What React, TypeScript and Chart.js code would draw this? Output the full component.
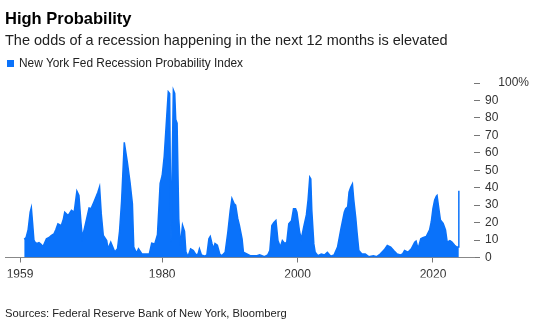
import React, { useEffect, useRef } from "react";
import { Chart, registerables } from "chart.js";

Chart.register(...registerables);

const TITLE = "High Probability";
const SUBTITLE = "The odds of a recession happening in the next 12 months is elevated";
const SERIES_NAME = "New York Fed Recession Probability Index";
const SOURCE = "Sources: Federal Reserve Bank of New York, Bloomberg";

const X_TICKS = [1959, 1980, 2000, 2020];
const Y_TICKS = [0, 10, 20, 30, 40, 50, 60, 70, 80, 90, 100];
const Y_LABELS = ["0", "10", "20", "30", "40", "50", "60", "70", "80", "90", "    100%"];

const years = [
  1959.62, 1959.9, 1960.2, 1960.5, 1960.67, 1960.85, 1961.05, 1961.2, 1961.5, 1961.8,
  1962.1, 1962.4, 1962.9, 1963.3, 1963.6, 1964.0, 1964.3, 1964.6, 1965.1, 1965.4,
  1965.6, 1966.1, 1966.6, 1967.0, 1967.4, 1967.7, 1968.0, 1968.2, 1968.55, 1969.2,
  1969.5, 1969.9, 1970.5, 1970.75, 1971.0, 1971.3, 1971.8, 1972.0, 1972.4, 1972.7,
  1973.0, 1973.4, 1973.7, 1974.0, 1974.4, 1974.85, 1975.25, 1975.6, 1975.8, 1976.2,
  1976.5, 1977.0, 1977.7, 1978.1, 1978.45, 1978.9, 1979.3, 1979.7, 1980.0, 1980.3,
  1980.9, 1981.1, 1981.3, 1981.65, 1981.85, 1982.0, 1982.2, 1982.45, 1982.7, 1983.0,
  1983.3, 1983.5, 1983.8, 1984.2, 1984.6, 1985.0, 1985.3, 1985.5, 1985.8, 1986.3,
  1986.6, 1986.9, 1987.1, 1987.35, 1987.6, 1987.8, 1988.15, 1988.5, 1988.8, 1989.3,
  1989.7, 1990.05, 1990.3, 1990.6, 1990.85, 1991.15, 1991.4, 1991.8, 1992.0, 1992.5,
  1993.0, 1993.5, 1994.0, 1994.4, 1995.1, 1995.6, 1995.9, 1996.2, 1996.5, 1996.8,
  1997.1, 1997.45, 1997.75, 1998.1, 1998.4, 1998.7, 1999.1, 1999.4, 1999.7, 1999.9,
  2000.3, 2000.55, 2000.9, 2001.3, 2001.55, 2001.8, 2001.95, 2002.1, 2002.4, 2002.6,
  2003.0, 2003.5, 2004.0, 2004.4, 2004.9, 2005.4, 2005.9, 2006.4, 2006.9, 2007.1,
  2007.4, 2007.6, 2007.85, 2008.1, 2008.3, 2008.6, 2008.8, 2009.05, 2009.5, 2010.0,
  2010.5, 2011.2, 2011.7, 2012.2, 2012.8, 2013.25, 2013.75, 2014.2, 2014.7, 2015.2,
  2015.5, 2015.8, 2016.3, 2016.8, 2017.3, 2017.5, 2017.8, 2018.2, 2018.5, 2019.0,
  2019.5, 2019.75, 2020.0, 2020.25, 2020.5, 2020.6, 2020.9, 2021.1, 2021.5, 2021.85,
  2022.1, 2022.5, 2022.8, 2023.2, 2023.5, 2023.75, 2023.82,
];

const probability = [
  10.5, 11.5, 16, 26, 28.5, 20, 10, 8.8, 8, 8.5,
  7.5, 6.3, 10.7, 11.5, 12.6, 13.5, 16, 19.3, 18.3, 22,
  25.9, 24, 27, 26, 38, 35.6, 20, 11.6, 17.3, 28.4,
  28, 31.7, 37.4, 40.5, 25, 12.6, 9.7, 5, 8.8, 6,
  3.1, 5, 15, 32, 66, 54.6, 43, 30.8, 6, 2.5,
  5, 2, 2, 2, 8.2, 7.7, 13, 42.5, 47, 58,
  95, 94, 8.8, 96, 94, 79, 77, 22, 7, 18.6,
  15, 3.3, 0.5, 5, 4, 1.5, 2, 5, 1.5, 0.8,
  1.5, 10.7, 12, 8, 5, 8, 7, 2, 1, 3,
  14.6, 27, 33.8, 31, 30, 22.5, 18.5, 10.7, 3, 2,
  1, 1, 1, 1.5, 0.5, 1.5, 4, 18.3, 20, 21.2,
  9.7, 6, 9.7, 8, 8.8, 19.3, 21, 28, 28, 26,
  14.6, 10.7, 17.4, 24.4, 33, 46, 45, 27, 7.8, 3,
  1, 2, 1.5, 3, 0.7, 1.5, 6, 16.4, 26, 28,
  29, 37.4, 40.3, 42.2, 33, 22.5, 13.7, 4, 2, 2,
  0.5, 1, 0.5, 2, 4.4, 6.9, 6, 4, 2, 1.5,
  2, 4, 3, 5, 8.8, 9.4, 5, 10.7, 11.3, 12,
  15.8, 20.5, 28.2, 33, 35.2, 35.6, 27, 21.5, 19.5, 15.8,
  8.8, 9.7, 8.8, 7, 6, 6, 38.2,
];

const BLUE = "#0a72fa";
const FONT = "'Liberation Sans', Arial, Helvetica, sans-serif";

export default function App() {
  const canvasRef = useRef<HTMLCanvasElement | null>(null);

  useEffect(() => {
    document.body.style.margin = "0";
    const canvas = canvasRef.current;
    if (!canvas) return;
    const points = years.map((x, i) => ({ x, y: probability[i] }));
    const chart = new Chart(canvas, {
      type: "line",
      data: {
        datasets: [
          {
            label: SERIES_NAME,
            data: points,
            backgroundColor: BLUE,
            borderColor: BLUE,
            borderWidth: 1.5,
            pointRadius: 0,
            fill: "origin",
            tension: 0,
          },
        ],
      },
      options: {
        responsive: false,
        animation: false,
        devicePixelRatio: 1,
        layout: { padding: { left: 5, top: 83, right: 0, bottom: 48.5 } },
        plugins: { legend: { display: false }, tooltip: { enabled: false }, title: { display: false } },
        scales: {
          x: {
            type: "linear",
            position: "bottom",
            min: 1956.78,
            max: 2026.06,
            afterBuildTicks: (scale: any) => {
              scale.ticks = X_TICKS.map((v) => ({ value: v }));
            },
            afterFit: (scale: any) => {
              scale.height = 20;
            },
            grid: {
              display: true,
              drawOnChartArea: false,
              drawTicks: true,
              tickLength: 5,
              color: "#777",
            },
            border: { display: true, color: "#888", width: 1 },
            ticks: {
              autoSkip: false,
              maxRotation: 0,
              padding: 5,
              color: "#333",
              font: { family: FONT, size: 12 },
              callback: (v: any) => String(v),
            },
          },
          y: {
            type: "linear",
            position: "right",
            min: 0,
            max: 100,
            afterBuildTicks: (scale: any) => {
              scale.ticks = Y_TICKS.map((v) => ({ value: v }));
            },
            afterFit: (scale: any) => {
              scale.width = 60;
            },
            grid: {
              display: true,
              drawOnChartArea: false,
              drawTicks: true,
              tickLength: 6,
              color: "#777",
            },
            border: { display: false },
            ticks: {
              padding: 5,
              color: "#333",
              font: { family: FONT, size: 12 },
              callback: (v: any) => {
                const idx = Y_TICKS.indexOf(Number(v));
                return idx >= 0 ? Y_LABELS[idx] : "";
              },
            },
          },
        },
      },
    });
    return () => chart.destroy();
  }, []);

  return (
    <div style={{ position: "relative", width: 534, height: 326, overflow: "hidden", fontFamily: FONT, background: "#fff" }}>
      <canvas ref={canvasRef} width={534} height={326} style={{ position: "absolute", left: 0, top: 0, width: 534, height: 326 }} />
      <div style={{ position: "absolute", left: 5, top: 10, fontSize: 16.5, lineHeight: "16.5px", fontWeight: 700, color: "#000", whiteSpace: "nowrap" }}>{TITLE}</div>
      <div style={{ position: "absolute", left: 5, top: 32.7, fontSize: 14.5, lineHeight: "14.5px", color: "#222", whiteSpace: "nowrap" }}>{SUBTITLE}</div>
      <div style={{ position: "absolute", left: 7, top: 60, width: 7, height: 7, background: BLUE }} />
      <div style={{ position: "absolute", left: 19, top: 57.7, fontSize: 11.9, lineHeight: "11.9px", color: "#222", whiteSpace: "nowrap" }}>{SERIES_NAME}</div>
      <div style={{ position: "absolute", left: 5, top: 307.8, fontSize: 11.2, lineHeight: "11.2px", color: "#222", whiteSpace: "nowrap" }}>{SOURCE}</div>
    </div>
  );
}
